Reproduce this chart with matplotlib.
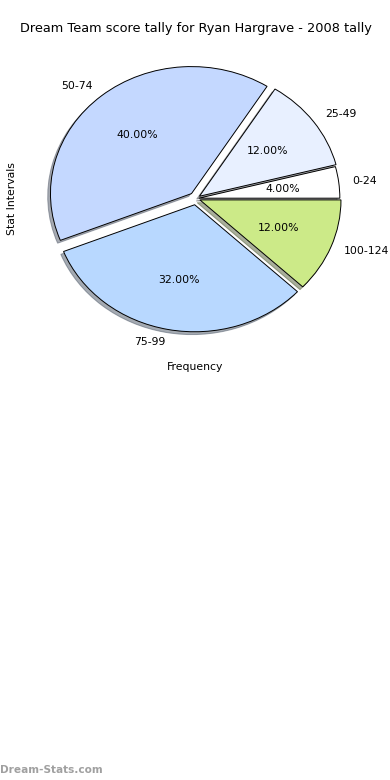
import matplotlib
matplotlib.use("Agg")
import matplotlib.pyplot as plt

labels = ["0-24", "25-49", "50-74", "75-99", "100-124"]
values = [4, 12, 40, 32, 12]
colors = ["#ffffff", "#e8f0ff", "#c4d8ff", "#b8d8ff", "#ccea88"]
explode = [0.02, 0.03, 0.05, 0.05, 0.03]

fig = plt.figure(figsize=(3.9, 7.8), dpi=100)
W, H = 390, 780
ax = fig.add_axes([18 / W, (H - 355) / H, 355 / W, 313 / H])

wedges, texts, autotexts = ax.pie(
    values, labels=labels, colors=colors, explode=explode,
    autopct="%1.2f%%", shadow=dict(ox=-0.014, oy=-0.016, shade=0.6),
    startangle=0,
    wedgeprops=dict(edgecolor="black", linewidth=0.7),
    textprops=dict(fontsize=7.8),
)
ax.set_aspect("auto")
ax.set_xlim(-1.262, 1.255)
ax.set_ylim(-1.232, 1.232)
ax.set_frame_on(False)
ax.set_xticks([])
ax.set_yticks([])
ax.set_title("Dream Team score tally for Ryan Hargrave - 2008 tally", fontsize=9.3, pad=7)
ax.set_xlabel("Frequency", fontsize=7.8, labelpad=5)
ax.set_ylabel("Stat Intervals", fontsize=7.8, labelpad=1)

fig.text(0.0, 10 / H, "Dream-Stats.com", fontsize=7.6, fontweight="bold",
         color="#a0a0a0", ha="left", va="center")

fig.savefig("out.png", dpi=100)
